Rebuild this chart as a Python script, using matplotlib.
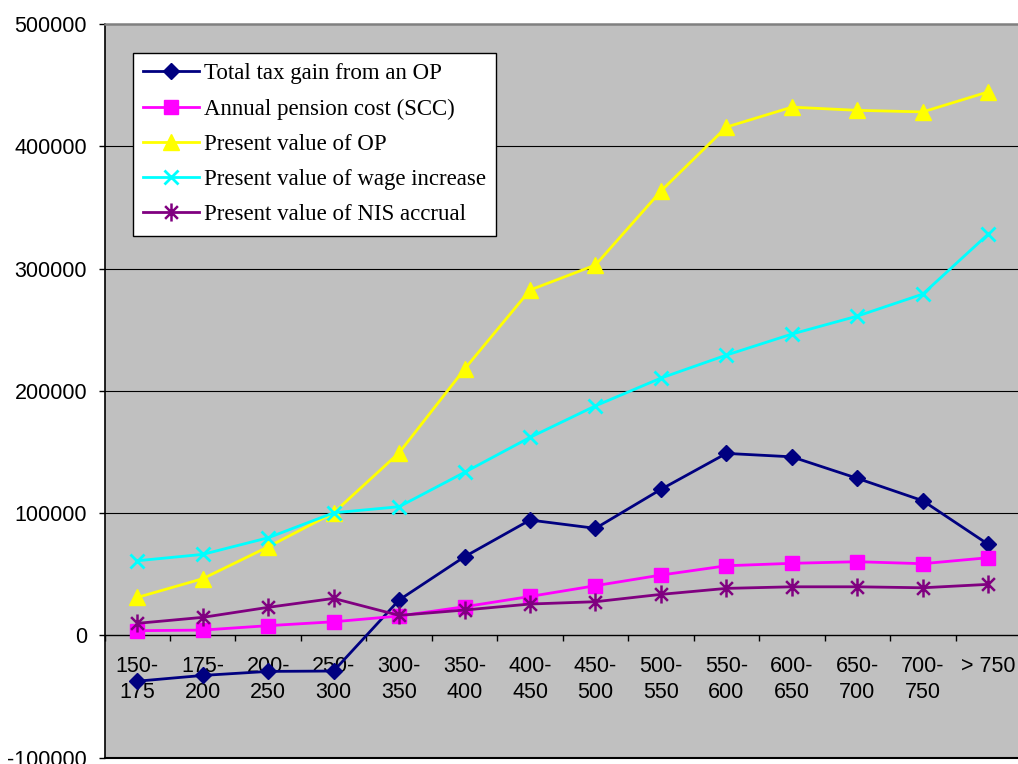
import numpy as np
import matplotlib
matplotlib.use("Agg")
import matplotlib.pyplot as plt
from matplotlib.path import Path

categories = ["150-\n175", "175-\n200", "200-\n250", "250-\n300", "300-\n350",
              "350-\n400", "400-\n450", "450-\n500", "500-\n550", "550-\n600",
              "600-\n650", "650-\n700", "700-\n750", "> 750"]

total_tax_gain = [-37500, -32800, -29500, -29200, 28900, 64300, 94300,
                  87500, 119400, 148800, 146000, 128400, 110100, 74400]
annual_pension_cost = [3800, 4300, 7900, 11100, 15800, 23400, 31800,
                       40600, 49300, 56900, 58900, 60200, 58600, 63500]
pv_op = [31000, 46300, 72400, 100200, 149300, 217800, 282400,
         302900, 363400, 415700, 432000, 429400, 428100, 444500]
pv_wage_increase = [61000, 66200, 79800, 100200, 105200, 133300, 161900,
                    187700, 210400, 229200, 246400, 261100, 279100, 328200]
pv_nis_accrual = [9800, 14700, 22900, 30200, 16300, 20700, 25600,
                  27500, 33500, 38400, 39700, 39700, 38900, 41700]

series_labels = ["Total tax gain from an OP", "Annual pension cost (SCC)",
                 "Present value of OP", "Present value of wage increase",
                 "Present value of NIS accrual"]

y_ticks = [-100000, 0, 100000, 200000, 300000, 400000, 500000]

# asterisk marker: vertical bar plus an x
d = 0.7071
star = Path([(0, -1), (0, 1), (-d, -d), (d, d), (-d, d), (d, -d)],
            [Path.MOVETO, Path.LINETO, Path.MOVETO, Path.LINETO,
             Path.MOVETO, Path.LINETO])

W, H = 1018, 764
fig = plt.figure(figsize=(W / 100, H / 100), dpi=100)
fig.patch.set_facecolor("white")
ax = fig.add_axes([104.5 / W, (H - 757.6) / H, 916.5 / W, 733.6 / H])
ax.set_facecolor("#C0C0C0")

x = np.arange(len(categories))
ax.set_xlim(-0.5, len(categories) - 0.5)
ax.set_ylim(y_ticks[0], y_ticks[-1])

for v in y_ticks[2:-1]:
    ax.axhline(v, color="black", lw=0.8, zorder=1)
ax.axhline(y_ticks[0], color="black", lw=1.5, zorder=1, clip_on=False)

styles = [
    dict(color="#000080", marker="D", ms=8, mec="#000080", mfc="#000080"),
    dict(color="#FF00FF", marker="s", ms=10.5, mec="#FF00FF", mfc="#FF00FF"),
    dict(color="#FFFF00", marker="^", ms=11, mec="#FFFF00", mfc="#FFFF00"),
    dict(color="#00FFFF", marker="x", ms=10.5, mew=2, mec="#00FFFF"),
    dict(color="#800080", marker=star, ms=13, mew=1.8, mec="#800080"),
]
data = [total_tax_gain, annual_pension_cost, pv_op, pv_wage_increase, pv_nis_accrual]
for i, (vals, lab, st) in enumerate(zip(data, series_labels, styles)):
    ax.plot(x, vals, lw=2, label=lab, zorder=3 + i, clip_on=False, **st)

# axes frame
ax.spines["right"].set_visible(False)
ax.spines["top"].set_color("#808080")
ax.spines["top"].set_linewidth(1.8)
ax.spines["left"].set_color("black")
ax.spines["left"].set_linewidth(1.2)
ax.spines["bottom"].set_position(("data", 0))
ax.spines["bottom"].set_color("black")
ax.spines["bottom"].set_linewidth(1)

ax.set_yticks(y_ticks)
ax.set_yticklabels([str(v) for v in y_ticks], fontfamily="Liberation Sans",
                   fontsize=15.5)
ax.tick_params(axis="y", direction="out", length=4.5, width=1, pad=8,
               colors="black")

ax.set_xticks(x)
ax.set_xticklabels(categories, fontfamily="Liberation Sans", fontsize=15.5,
                   linespacing=1.3)
ax.set_xticks(np.arange(-0.5, len(categories), 1.0), minor=True)
ax.tick_params(axis="x", which="major", length=0, pad=15)
ax.tick_params(axis="x", which="minor", direction="out", length=4.5, width=1,
               colors="black")

leg = ax.legend(loc="upper left", bbox_to_anchor=(133 / W, 1 - 53 / H),
                bbox_transform=fig.transFigure, borderaxespad=0,
                prop={"family": "Liberation Serif", "size": 16.5},
                frameon=True, fancybox=False, framealpha=1,
                facecolor="white", edgecolor="black",
                handlelength=2.45, handletextpad=0.18, borderpad=0.45,
                labelspacing=0.62)
leg.get_frame().set_linewidth(1)
leg.set_zorder(10)

fig.savefig("out.png", dpi=100)
